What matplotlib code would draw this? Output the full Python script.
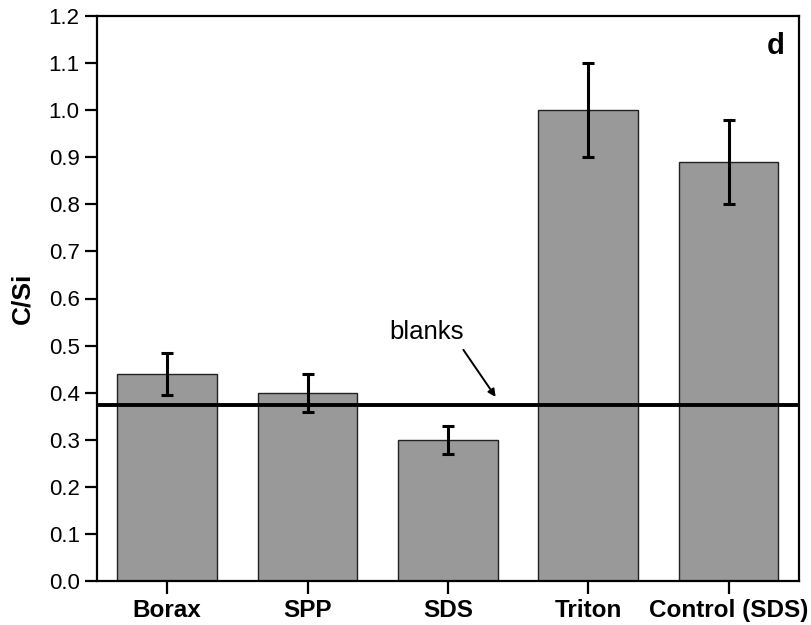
import numpy as np
import matplotlib.pyplot as plt

plt.rcParams['font.family'] = ['Liberation Sans', 'DejaVu Sans']

# data
samples = ['Borax', 'SPP', 'SDS', 'Triton', 'Control (SDS)']
ratio = [0.44, 0.40, 0.30, 1.00, 0.89]
ratio_err = [0.044, 0.04, 0.03, 0.10, 0.09]
blank_level = 0.373
yticks = [0.0, 0.1, 0.2, 0.3, 0.4, 0.5, 0.6, 0.7, 0.8, 0.9, 1.0, 1.1, 1.2]

fig = plt.figure(figsize=(8.11, 6.25), dpi=100)
ax = fig.add_axes([0.1196, 0.0704, 0.8654, 0.904])

x = np.arange(len(samples))
ax.bar(x, ratio, width=0.71, color='#999999', edgecolor='#222222', linewidth=1.0, zorder=2)
ax.errorbar(x, ratio, yerr=ratio_err, fmt='none', ecolor='black', elinewidth=2.2,
            capsize=4, capthick=2.2, zorder=3)
ax.axhline(blank_level, color='black', linewidth=2.8, zorder=4)

# blanks label and its arrow
ax.text(1.85, 0.529, 'blanks', fontsize=18.5, ha='center', va='center')
ax.annotate('', xy=(2.34, 0.391), xytext=(2.11, 0.491),
            arrowprops=dict(arrowstyle='-|>', color='black', lw=1.4,
                            mutation_scale=11, shrinkA=0, shrinkB=0))
ax.text(0.98, 0.972, 'd', transform=ax.transAxes, fontsize=21, fontweight='bold',
        ha='right', va='top')

ax.set_xlim(-0.5, 4.5)
ax.set_ylim(0, 1.2)
ax.set_yticks(yticks)
ax.set_yticklabels([f'{t:.1f}' for t in yticks])
ax.set_xticks(x)
ax.set_xticklabels(samples, fontweight='bold', fontsize=17.5)
ax.set_ylabel('C/Si', fontsize=19, fontweight='bold', labelpad=10)

for s in ax.spines.values():
    s.set_linewidth(1.6)
ax.tick_params(axis='both', direction='out', length=9, width=1.6,
               top=False, right=False)
ax.tick_params(axis='y', labelsize=16)
ax.tick_params(axis='x', pad=4)

fig.savefig('out.png', dpi=100)
